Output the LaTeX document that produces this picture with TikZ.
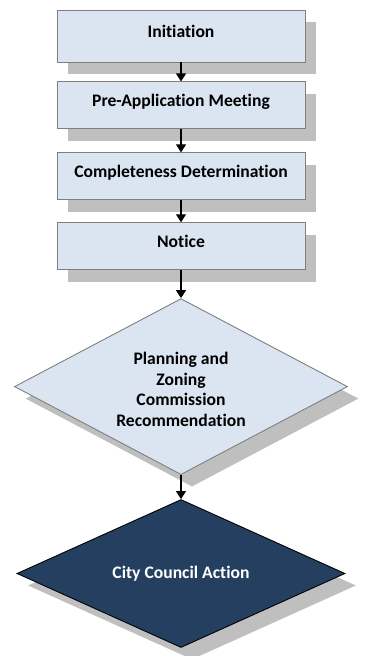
\documentclass[tikz,border=0pt]{standalone}
\usepackage{fontspec}
\setmainfont{Carlito}[Ligatures=NoCommon]
\usepackage{tikz}
\usetikzlibrary{positioning, shapes.geometric, arrows.meta, shadows}
\definecolor{boxfill}{HTML}{DBE5F1}
\definecolor{boxline}{HTML}{7F7F7F}
\definecolor{shadowgray}{HTML}{BFBFBF}
\definecolor{navy}{HTML}{243F60}
\tikzset{
    stagefont/.style={font=\fontsize{17.6}{20.5}\selectfont\bfseries},
    base/.style={draw=boxline, line width=0.9pt, align=center, stagefont,
        drop shadow={shadow xshift=11pt, shadow yshift=-12pt, fill=shadowgray, opacity=1}},
    stagebox/.style={base, rectangle, fill=boxfill, minimum width=248pt, minimum height=47pt,
        inner sep=0pt, text height=11pt, text depth=9pt},
    decision/.style={base, diamond, fill=boxfill, inner sep=0pt, minimum width=333pt, minimum height=176pt},
    finaldecision/.style={base, diamond, fill=navy, draw=black, inner sep=0pt,
        minimum width=328pt, minimum height=148pt},
    decisiontext/.style={align=center, stagefont, inner sep=0pt},
    arrow/.style={-{Triangle[width=10pt, length=8pt]}, line width=1.2pt}
}

\begin{document}
\begin{tikzpicture}[x=1pt, y=1pt]
    \useasboundingbox (0,0) rectangle (365,-656);
    % Process steps (vertical layout)
    \node [stagebox, minimum height=52pt] (init) at (181, -36) {Initiation};
    \node [stagebox, below=19pt of init] (premeet) {Pre-Application Meeting};
    \node [stagebox, below=23pt of premeet] (complete) {Completeness Determination};
    \node [stagebox, below=22pt of complete] (notice) {Notice};
    % Decisions: text as centre label so the diamond keeps its size
    \node [decision, below=28pt of notice,
        label={[decisiontext, yshift=-3pt]center:Planning and\\Zoning\\Commission\\Recommendation}] (pzc) {};
    \node [finaldecision, below=24pt of pzc,
        label={[decisiontext, text=white]center:City Council Action}] (council) {};

    % Connections
    \draw [arrow] (init) -- (premeet);
    \draw [arrow] (premeet) -- (complete);
    \draw [arrow] (complete) -- (notice);
    \draw [arrow] (notice) -- (pzc);
    \draw [arrow] (pzc) -- (council);
\end{tikzpicture}
\end{document}
